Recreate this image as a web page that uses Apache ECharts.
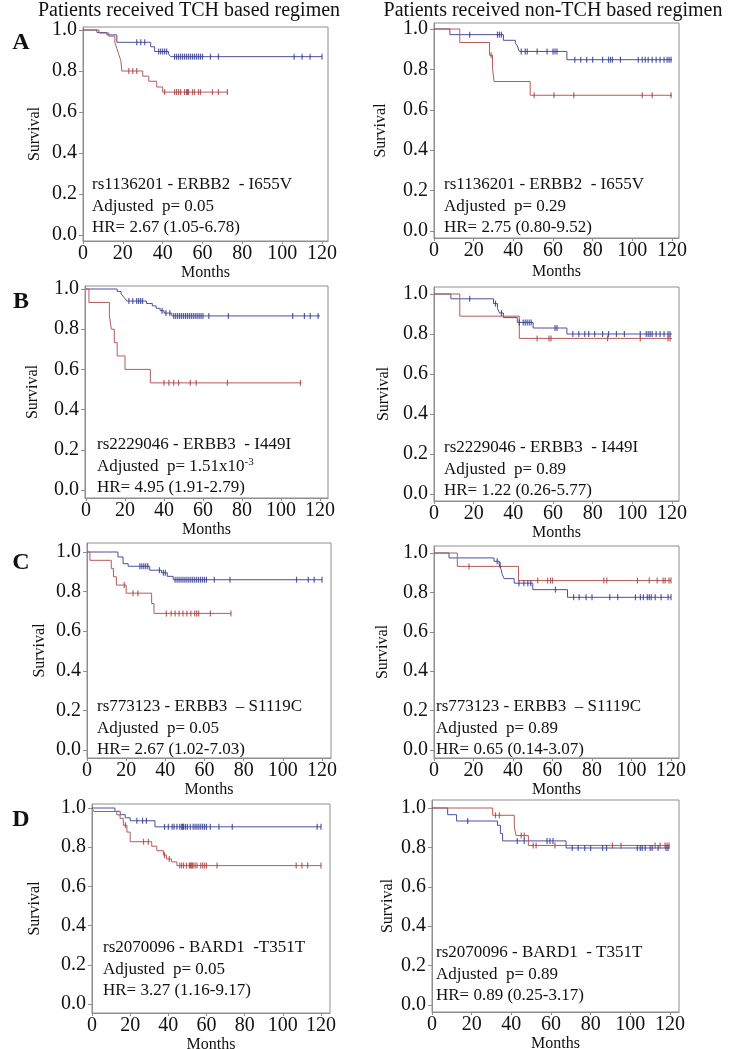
<!DOCTYPE html>
<html><head><meta charset="utf-8">
<script src="https://cdn.jsdelivr.net/npm/echarts@6/dist/echarts.min.js"></script>
<style>html,body{margin:0;padding:0;background:#fff}#c{width:733px;height:1049px}</style>
</head><body><div id="c"></div>
<script>
// ---------------- DATA ----------------
const xTicks = [0, 20, 40, 60, 80, 100, 120];
const yTicks = [0, 0.2, 0.4, 0.6, 0.8, 1.0];
const colTitles = ['Patients received TCH based regimen', 'Patients received non-TCH based regimen'];
const rowLetters = ['A', 'B', 'C', 'D'];
const xName = 'Months';
const yName = 'Survival';

// Kaplan-Meier steps: [month, survival after event]; censor months; end of follow-up
const A_tch_blue = [[7,0.988],[12,0.976],[17,0.94],[34,0.918],[36,0.895],[43,0.882],[44,0.87]];
const A_tch_blue_cens = [27,29,31,38,39,40,41,42,46,47,48,49,50,51,52,53,54,55,56,57,58,59,60,64,68,106,110,114,120];
const A_tch_blue_end = 120;
const A_tch_red = [[8,0.985],[13,0.97],[16,0.94],[17,0.91],[18,0.88],[19,0.85],[19.5,0.80],[30,0.775],[33,0.75],[37,0.722],[40,0.697]];
const A_tch_red_cens = [23,25,27,41,46,47,48,49,51,52,52.5,53,55,56,58,59,65,68,72.5];
const A_tch_red_end = 72.5;

const A_non_blue = [[8,0.972],[35,0.944],[41,0.93],[42,0.916],[43,0.889],[67,0.848]];
const A_non_blue_cens = [18,32,33,34,44,46,47,52,57,60,61,62,71,74,77,80,85,88,89,90,94,103,105,106.5,108,110,112,114,116,117.5,118.5,119.5];
const A_non_blue_end = 120;
const A_non_red = [[13,0.933],[28,0.87],[29.5,0.805],[30.3,0.74],[48.5,0.672]];
const A_non_red_cens = [28.8,50.5,60.5,70.5,105,110,119.5];
const A_non_red_end = 120;

const B_tch_blue = [[16,0.988],[18,0.976],[19,0.964],[20,0.952],[21,0.94],[31,0.928],[34,0.916],[36,0.904],[38,0.892],[40,0.88],[44,0.866]];
const B_tch_blue_cens = [22,24,26,27,28,29,39,41,43,45,46,47,48,49,50,51,52,53,54,55,56,57,58,59,60,63,73,106,112,115,119];
const B_tch_blue_end = 120;
const B_tch_red = [[1.5,0.933],[12,0.867],[13,0.8],[14.5,0.733],[16,0.667],[20,0.6],[33,0.533]];
const B_tch_red_cens = [40,42.5,45,47.5,53.5,56.5,72.5,110];
const B_tch_red_end = 110.5;

const B_non_blue = [[8.5,0.976],[30,0.952],[32,0.928],[33,0.905],[35,0.882],[42,0.858],[50,0.83],[67,0.8]];
const B_non_blue_cens = [18,31,34,43,45,46,47,48,49,61,62,70,73,76,78,81,85,88,92,96,104,107,108,109,110,112,114,116,118,119];
const B_non_blue_end = 120;
const B_non_red = [[13,0.889],[43,0.778]];
const B_non_red_cens = [52,58,59,87.5,104,118,119];
const B_non_red_end = 120;

const C_tch_blue = [[15.8,0.975],[18.4,0.941],[21,0.928],[32,0.908],[38,0.895],[41,0.877],[44,0.86]];
const C_tch_blue_cens = [27,28,29,30,31,37,39,40,45,46,47,48,49,50,51,52,53,54,55,56,57,58,59,60,61,65,73,107,113,116,120];
const C_tch_blue_end = 120;
const C_tch_red = [[1.5,0.958],[12.4,0.917],[13.5,0.875],[15,0.833],[20,0.792],[33,0.74],[34.2,0.69]];
const C_tch_red_cens = [19,23.5,26,40.5,43,45,47,49,51,53,55,56,57,63,73.5];
const C_tch_red_end = 73.5;

const C_non_blue = [[7.6,0.975],[30.4,0.958],[33,0.94],[34,0.915],[34.6,0.89],[35.5,0.87],[40.6,0.847],[50,0.814],[67.6,0.775]];
const C_non_blue_cens = [32,33.5,43,45.5,47.5,49,61.5,70.7,73.5,77,80,89,93,102,104.5,106,108,109,110,112,115,118.5,120];
const C_non_blue_end = 120;
const C_non_red = [[11.8,0.932],[42.8,0.86]];
const C_non_red_cens = [17.7,52.5,57.5,59,60,86,87.5,103,109,113,116,117,119,120];
const C_non_red_end = 120;

const D_tch_blue = [[12,0.983],[14.8,0.966],[17.4,0.95],[20,0.935],[33,0.904]];
const D_tch_blue_cens = [23.5,26.5,28.5,38,40,42,43,44.5,46,47,47.5,48,49,50,51.5,53,54,55,56,57,58,59,60,62,66.5,73.5,118,120];
const D_tch_blue_end = 120;
const D_tch_red = [[1,0.982],[13,0.965],[14.7,0.947],[16.4,0.912],[18.3,0.877],[20,0.828],[31.3,0.805],[34,0.782],[37.4,0.76],[39,0.74],[41.7,0.725],[44.5,0.706]];
const D_tch_red_cens = [17.5,27,29.5,38,40.5,46,47,48,49.5,51,51.5,52,52.5,53,54,55,57,58,59,60,65.5,107,110,113,120];
const D_tch_red_end = 120;

const D_non_blue = [[7.9,0.966],[12.4,0.934],[33,0.912],[34.5,0.87],[35.6,0.833],[67.6,0.797]];
const D_non_blue_cens = [18,43,46.5,58,59.5,61,70.7,73.7,77,80,86,88,103.5,105,106,107.5,110,111,114,118,119];
const D_non_blue_end = 120;
const D_non_red = [[30.6,0.963],[41.5,0.904],[42.4,0.86],[48.6,0.81]];
const D_non_red_cens = [32,34,45,46.5,51,52.5,62,91,95.3,112.5,115,117.5,118.5,119.5];
const D_non_red_end = 120;

const annotations = [
  ['rs1136201 - ERBB2  - I655V', 'Adjusted  p= 0.05', 'HR= 2.67 (1.05-6.78)'],
  ['rs1136201 - ERBB2  - I655V', 'Adjusted  p= 0.29', 'HR= 2.75 (0.80-9.52)'],
  ['rs2229046 - ERBB3  - I449I', 'Adjusted  p= 1.51x10|-3', 'HR= 4.95 (1.91-2.79)'],
  ['rs2229046 - ERBB3  - I449I', 'Adjusted  p= 0.89', 'HR= 1.22 (0.26-5.77)'],
  ['rs773123 - ERBB3  \u2013 S1119C', 'Adjusted  p= 0.05', 'HR= 2.67 (1.02-7.03)'],
  ['rs773123 - ERBB3  \u2013 S1119C', 'Adjusted  p= 0.89', 'HR= 0.65 (0.14-3.07)'],
  ['rs2070096 - BARD1  -T351T', 'Adjusted  p= 0.05', 'HR= 3.27 (1.16-9.17)'],
  ['rs2070096 - BARD1  - T351T', 'Adjusted  p= 0.89', 'HR= 0.89 (0.25-3.17)']
];

const curves = [
  [[A_tch_blue, A_tch_blue_cens, A_tch_blue_end], [A_tch_red, A_tch_red_cens, A_tch_red_end]],
  [[A_non_blue, A_non_blue_cens, A_non_blue_end], [A_non_red, A_non_red_cens, A_non_red_end]],
  [[B_tch_blue, B_tch_blue_cens, B_tch_blue_end], [B_tch_red, B_tch_red_cens, B_tch_red_end]],
  [[B_non_blue, B_non_blue_cens, B_non_blue_end], [B_non_red, B_non_red_cens, B_non_red_end]],
  [[C_tch_blue, C_tch_blue_cens, C_tch_blue_end], [C_tch_red, C_tch_red_cens, C_tch_red_end]],
  [[C_non_blue, C_non_blue_cens, C_non_blue_end], [C_non_red, C_non_red_cens, C_non_red_end]],
  [[D_tch_blue, D_tch_blue_cens, D_tch_blue_end], [D_tch_red, D_tch_red_cens, D_tch_red_end]],
  [[D_non_blue, D_non_blue_cens, D_non_blue_end], [D_non_red, D_non_red_cens, D_non_red_end]]
];

// ---------------- LAYOUT (pixels) ----------------
// box: [left, top, right, bottom]; x0/x120: pixel of month 0/120; y1/y0: pixel of survival 1.0/0.0
const layout = [
  {box:[83,27,328,241],  x0:83,  x120:322, y1:30,  y0:235,  tx:92,  ty:185, mY:271, sX:35},
  {box:[434,23,679,238], x0:434, x120:672, y1:29,  y0:231,  tx:444, ty:185, mY:272, sX:381},
  {box:[85,286,328,498], x0:86,  x120:320, y1:289, y0:490,  tx:97,  ty:445, mY:528, sX:33},
  {box:[434,287,679,501],x0:434, x120:672, y1:294, y0:494,  tx:444, ty:448, mY:528, sX:384},
  {box:[87,543,331,758], x0:87,  x120:322, y1:552, y0:750,  tx:97,  ty:707, mY:790, sX:40},
  {box:[434,546,679,758],x0:434, x120:671, y1:553, y0:750,  tx:436, ty:707, mY:787, sX:383},
  {box:[92,804,330,1013],x0:92,  x120:321, y1:808, y0:1004, tx:103, ty:948, mY:1043, sX:35},
  {box:[432,800,679,1012],x0:432,x120:670, y1:808, y0:1005, tx:436, ty:953, mY:1041, sX:388}
];
const titlePos = [[189, 11], [553, 11]];
const letterPos = [[21, 43], [21, 302], [21, 563], [21, 820]];
const lineGap = 21.5;

const FONT = "'Liberation Serif','Times New Roman',serif";
const BLUE = '#4a50a2', RED = '#b55a5a', BLUE_C = '#2e3590', RED_C = '#a83c3c';
const FRAME = '#8e8e8e';

function survAt(steps, t) {
  let s = 1;
  for (const [tt, v] of steps) { if (tt <= t) s = v; }
  return s;
}

const grid = [], xAxis = [], yAxis = [], series = [], graphic = [];
layout.forEach((L, i) => {
  const [l, t, r, b] = L.box;
  grid.push({left: l, top: t, width: r - l, height: b - t, show: true, borderColor: FRAME, borderWidth: 1,
             backgroundColor: 'transparent', containLabel: false, outerBoundsMode: 'none'});
  const pxm = (L.x120 - L.x0) / 120;
  const pyu = (L.y0 - L.y1);
  xAxis.push({
    gridIndex: i, type: 'value', min: -(L.x0 - l) / pxm, max: 120 + (r - L.x120) / pxm,
    splitLine: {show: false},
    axisLine: {show: true, onZero: false, lineStyle: {color: FRAME, width: 1}},
    axisTick: {show: true, length: 3, customValues: xTicks, lineStyle: {color: FRAME}},
    axisLabel: {customValues: xTicks, fontFamily: FONT, fontSize: 20, color: '#111', margin: 3,
                formatter: v => String(Math.round(v))},
    name: xName, nameLocation: 'middle', nameGap: L.mY - b - 8,
    nameTextStyle: {fontFamily: FONT, fontSize: 16, color: '#111'}
  });
  yAxis.push({
    gridIndex: i, type: 'value', min: -(b - L.y0) / pyu, max: 1 + (L.y1 - t) / pyu,
    splitLine: {show: false},
    axisLine: {show: true, onZero: false, lineStyle: {color: FRAME, width: 1}},
    axisTick: {show: true, length: 4, customValues: yTicks, lineStyle: {color: FRAME}},
    axisLabel: {customValues: yTicks, fontFamily: FONT, fontSize: 20, color: '#111', margin: 6,
                formatter: v => v.toFixed(1)},
    name: yName, nameLocation: 'middle', nameRotate: 90, nameGap: l - L.sX - 8,
    nameTextStyle: {fontFamily: FONT, fontSize: 16, color: '#111'}
  });
  const groups = curves[i];
  const cols = [[BLUE, BLUE_C], [RED, RED_C]];
  groups.forEach((g, gi) => {
    const [steps, cens, end] = g;
    const lineData = [[0, 1]].concat(steps.map(p => [p[0], p[1]]));
    lineData.push([end, steps[steps.length - 1][1]]);
    series.push({
      type: 'line', xAxisIndex: i, yAxisIndex: i, data: lineData, step: 'end',
      showSymbol: false, symbol: 'none', lineStyle: {color: cols[gi][0], width: 1}, silent: true, z: 2 + gi
    });
    series.push({
      type: 'scatter', xAxisIndex: i, yAxisIndex: i, data: cens.map(c => [c, survAt(steps, c)]),
      symbol: 'rect', symbolSize: [1.2, 6], itemStyle: {color: cols[gi][1]}, silent: true, z: 4 + gi
    });
  });
  annotations[i].forEach((txt, k) => {
    let text = txt, rich = undefined;
    if (txt.indexOf('|') >= 0) {
      const [a, s] = txt.split('|');
      text = '{a|' + a + '}{s|' + s + '}';
      rich = {a: {fontFamily: FONT, fontSize: 17, color: '#111', lineHeight: 20},
              s: {fontFamily: FONT, fontSize: 11, color: '#111', verticalAlign: 'top', lineHeight: 20, padding: [0,0,8,0]}};
    }
    graphic.push({type: 'text', x: L.tx, y: L.ty + k * lineGap,
      style: {text: text, rich: rich, fontFamily: FONT, fontSize: 17, fill: '#111', align: 'left', verticalAlign: 'middle'}});
  });
});

colTitles.forEach((tt, i) => {
  graphic.push({type: 'text', x: titlePos[i][0], y: titlePos[i][1],
    style: {text: tt, fontFamily: FONT, fontSize: 20, fill: '#111', align: 'center', verticalAlign: 'middle'}});
});
rowLetters.forEach((tt, i) => {
  graphic.push({type: 'text', x: letterPos[i][0], y: letterPos[i][1],
    style: {text: tt, fontFamily: FONT, fontSize: 24, fontWeight: 'bold', fill: '#111', align: 'center', verticalAlign: 'middle'}});
});

const chart = echarts.init(document.getElementById('c'), null, {renderer: 'canvas'});
chart.setOption({animation: false, backgroundColor: '#fff', grid, xAxis, yAxis, series, graphic});
</script></body></html>
